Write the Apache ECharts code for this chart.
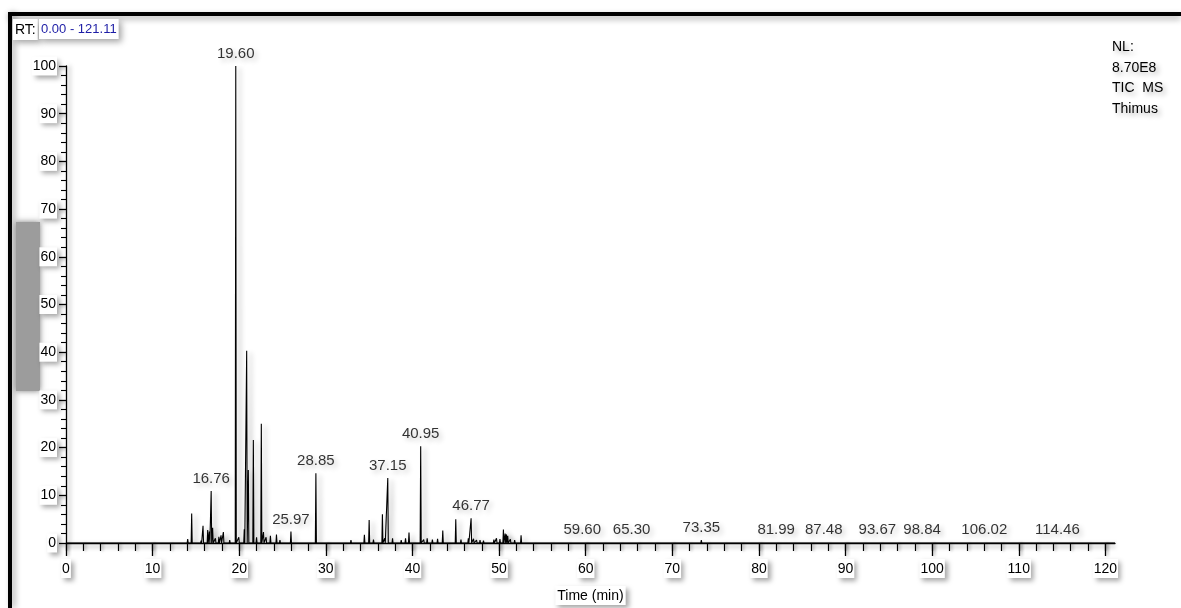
<!DOCTYPE html>
<html>
<head>
<meta charset="utf-8">
<script src="https://cdn.jsdelivr.net/npm/echarts@6/dist/echarts.min.js"></script>
<style>
  html, body { margin: 0; padding: 0; background: #fff; }
  #chart { width: 1181px; height: 608px; }
</style>
</head>
<body>
<div id="chart"></div>
<script>
// Total ion chromatogram (TIC MS) — retention time in minutes vs. relative abundance (%)
const rtRange = [0, 121.11];

// Peak apex retention times (min) and relative abundances (%)
const peakTimes = [
  14.05, 14.51, 15.6, 15.82, 16.36, 16.55, 16.76, 16.93, 17.25, 17.65, 17.9, 18.17, 18.9,
  19.60, 19.95, 20.58, 20.86, 21.05, 21.63, 22.0, 22.55, 22.8, 23.1, 23.6, 24.3, 24.7,
  25.97, 28.85, 32.9, 34.45, 35.0, 35.5, 36.53, 36.8, 37.15, 37.7, 38.7, 39.2, 39.6,
  40.95, 41.3, 41.7, 42.3, 42.9, 43.5, 45.0, 45.6, 46.45, 46.77, 47.05, 47.4, 47.8,
  48.2, 49.4, 49.7, 50.1, 50.5, 50.7, 50.85, 51.0, 51.3, 51.8, 52.54,
  59.60, 65.30, 73.35, 81.99, 87.48, 93.67, 98.84, 106.02, 114.46
];
const peakHeights = [
  0.8, 6.2, 0.5, 3.6, 2.7, 2.4, 10.9, 3.2, 1.0, 1.3, 1.6, 2.3, 0.6,
  100, 1.2, 2.9, 40.3, 15.3, 21.6, 1.2, 25.0, 2.3, 1.2, 1.5, 1.8, 0.6,
  2.4, 14.6, 0.6, 1.7, 4.8, 0.7, 6.0, 1.0, 13.6, 1.0, 0.6, 1.0, 2.2,
  20.3, 0.7, 1.0, 0.7, 0.9, 2.6, 5.0, 0.7, 1.0, 5.2, 0.9, 0.6, 0.6,
  0.5, 0.7, 1.0, 0.8, 2.8, 2.0, 1.8, 1.5, 0.8, 0.6, 1.6,
  0.2, 0.2, 0.6, 0.15, 0.15, 0.2, 0.2, 0.2, 0.2
];

// Peaks annotated with their retention time
const labeledPeaks = [16.76, 19.60, 25.97, 28.85, 37.15, 40.95, 46.77,
  59.60, 65.30, 73.35, 81.99, 87.48, 93.67, 98.84, 106.02, 114.46];

// Axis tick positions
const xMajorTicks = [0, 10, 20, 30, 40, 50, 60, 70, 80, 90, 100, 110, 120];
const xMinorTicks = [];
for (let v = 0; v <= 120; v += 2) xMinorTicks.push(v);

// Trace: each peak drawn as a narrow spike rising from the baseline
const HALF_WIDTH = 0.06;
const trace = [[rtRange[0], 0]];
peakTimes.forEach((t, i) => {
  trace.push([t - HALF_WIDTH, 0], [t, peakHeights[i]], [t + HALF_WIDTH, 0]);
});
trace.push([rtRange[1], 0]);

const apexPoints = labeledPeaks.map(t => [t, peakHeights[peakTimes.indexOf(t)]]);

const FONT = "'Liberation Sans Narrow', 'Arial Narrow', 'Liberation Sans', Arial, sans-serif";
const INK = '#000';
const SHADOW = 'rgba(0,0,0,0.35)';

const boxLabel = {
  fontFamily: FONT, fontSize: 14, color: INK,
  backgroundColor: '#fff', padding: [3, 1, 2, 1],
  shadowColor: SHADOW, shadowBlur: 5, shadowOffsetX: 3, shadowOffsetY: 3
};

const chart = echarts.init(document.getElementById('chart'), null, { renderer: 'canvas' });

chart.setOption({
  animation: false,
  backgroundColor: '#fff',
  grid: { left: 66, right: 66, top: 66, bottom: 65, outerBoundsMode: 'none', containLabel: false },
  title: [
    {
      text: 'RT:', left: 13, top: 19, padding: [4, 2, 3, 2],
      backgroundColor: '#fff', shadowColor: SHADOW, shadowBlur: 6, shadowOffsetX: 3, shadowOffsetY: 3,
      textStyle: { fontFamily: FONT, fontSize: 14, fontWeight: 'normal', color: INK }
    },
    {
      text: '0.00 - 121.11', left: 39, top: 19, padding: [4, 2, 3, 2],
      backgroundColor: '#fff', shadowColor: SHADOW, shadowBlur: 6, shadowOffsetX: 3, shadowOffsetY: 3,
      textStyle: { fontFamily: FONT, fontSize: 13, fontWeight: 'normal', color: '#1d1da6' }
    },
    {
      text: 'NL:\n8.70E8\nTIC  MS\nThimus', left: 1112, top: 37, padding: 0,
      textStyle: {
        fontFamily: FONT, fontSize: 14, fontWeight: 'normal', color: INK, lineHeight: 20.5,
        textShadowColor: 'rgba(0,0,0,0.3)', textShadowBlur: 5, textShadowOffsetX: 3, textShadowOffsetY: 3
      }
    }
  ],
  graphic: [
    // outer frame
    { type: 'rect', z: -10, shape: { x: 8, y: 12, width: 1173, height: 4 },
      style: { fill: '#000', shadowColor: 'rgba(0,0,0,0.35)', shadowBlur: 6, shadowOffsetY: 3 } },
    { type: 'rect', z: -10, shape: { x: 8, y: 12, width: 4, height: 596 },
      style: { fill: '#000', shadowColor: 'rgba(0,0,0,0.35)', shadowBlur: 6, shadowOffsetX: 3 } },
    // scroll bar block on the left edge
    { type: 'rect', z: -10, shape: { x: 16, y: 222, width: 24, height: 169 },
      style: { fill: '#9c9c9c', shadowColor: 'rgba(110,110,110,0.9)', shadowBlur: 6 } }
  ],
  xAxis: [
    {
      type: 'value', min: rtRange[0], max: rtRange[1], position: 'bottom',
      name: 'Time (min)', nameLocation: 'middle', nameGap: 43,
      nameTextStyle: Object.assign({}, boxLabel, { padding: [3, 2, 2, 2] }),
      splitLine: { show: false },
      axisLine: { lineStyle: { color: INK, width: 1.3, shadowColor: SHADOW, shadowBlur: 4, shadowOffsetY: 3 } },
      axisTick: { customValues: xMajorTicks, length: 13, lineStyle: { color: INK, width: 1.3, shadowColor: SHADOW, shadowBlur: 3, shadowOffsetX: 2 } },
      axisLabel: Object.assign({ customValues: xMajorTicks, margin: 16 }, boxLabel)
    },
    {
      type: 'value', min: rtRange[0], max: rtRange[1], position: 'bottom',
      splitLine: { show: false },
      axisLine: { show: false },
      axisTick: { customValues: xMinorTicks, length: 8, lineStyle: { color: INK, width: 1.2, shadowColor: SHADOW, shadowBlur: 3, shadowOffsetX: 2 } },
      axisLabel: { show: false }
    }
  ],
  yAxis: {
    type: 'value', min: 0, max: 100, interval: 10,
    splitLine: { show: false },
    axisLine: { show: true, lineStyle: { color: INK, width: 1.3, shadowColor: SHADOW, shadowBlur: 4, shadowOffsetX: 3 } },
    axisTick: { show: true, length: 7, lineStyle: { color: INK, width: 1.3, shadowColor: SHADOW, shadowBlur: 3, shadowOffsetY: 2 } },
    minorTick: { show: true, splitNumber: 5, length: 5, lineStyle: { color: INK, width: 1.1 } },
    axisLabel: Object.assign({ margin: 9 }, boxLabel)
  },
  series: [
    {
      type: 'line', xAxisIndex: 0, data: trace, showSymbol: false, symbol: 'none',
      lineStyle: { color: '#000', width: 1.1, shadowColor: 'rgba(0,0,0,0.3)', shadowBlur: 5, shadowOffsetX: 4, shadowOffsetY: 2 },
      z: 3
    },
    {
      type: 'scatter', xAxisIndex: 0, data: apexPoints, symbolSize: 1,
      itemStyle: { color: 'rgba(0,0,0,0)' },
      label: {
        show: true, position: 'top', distance: 4,
        formatter: p => p.value[0].toFixed(2),
        fontFamily: FONT, fontSize: 15, color: INK,
        textShadowColor: 'rgba(0,0,0,0.28)', textShadowBlur: 5, textShadowOffsetX: 3, textShadowOffsetY: 3
      },
      z: 4
    }
  ]
});
</script>
</body>
</html>
